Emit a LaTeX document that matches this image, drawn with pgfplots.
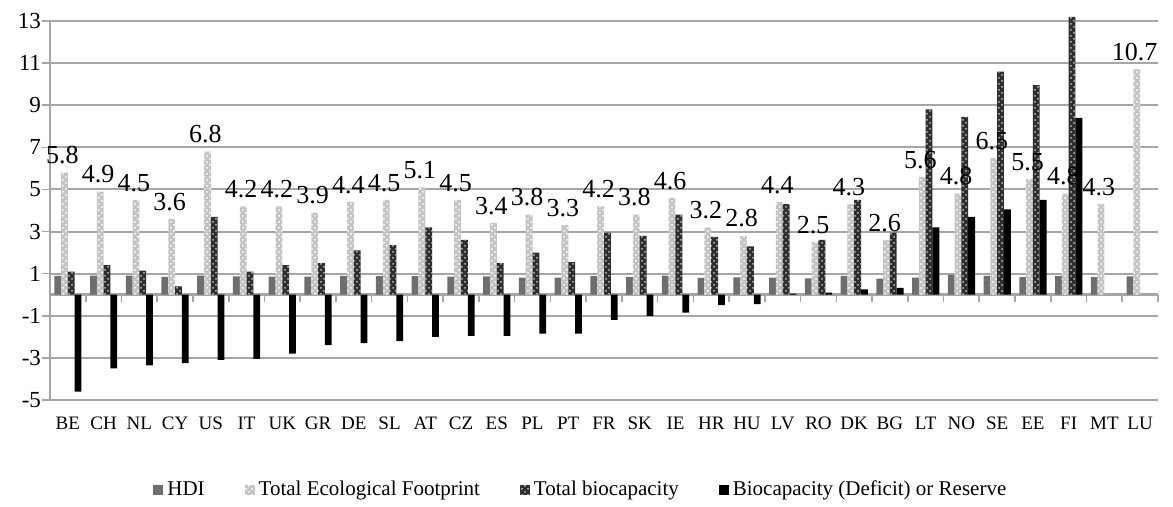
\documentclass[border=0pt]{standalone}
\usepackage{fontspec}
\setmainfont{Liberation Serif}
\usepackage{pgfplots}
\usepackage{pgfplotstable}
\pgfplotsset{compat=1.18}
\usetikzlibrary{patterns}

\pgfplotstableread{
cat HDI FP BC DEF
BE 0.89 5.8 1.1 -4.6
CH 0.91 4.9 1.4 -3.5
NL 0.91 4.5 1.15 -3.35
CY 0.85 3.6 0.4 -3.25
US 0.91 6.8 3.7 -3.1
IT 0.87 4.2 1.1 -3.05
UK 0.86 4.2 1.4 -2.8
GR 0.86 3.9 1.5 -2.4
DE 0.90 4.4 2.1 -2.3
SL 0.88 4.5 2.35 -2.2
AT 0.88 5.1 3.2 -2.0
CZ 0.86 4.5 2.6 -1.95
ES 0.87 3.4 1.5 -1.95
PL 0.81 3.8 2.0 -1.85
PT 0.81 3.3 1.55 -1.85
FR 0.88 4.2 2.95 -1.2
SK 0.83 3.8 2.8 -1.0
IE 0.91 4.6 3.8 -0.85
HR 0.80 3.2 2.75 -0.5
HU 0.82 2.8 2.3 -0.45
LV 0.81 4.4 4.3 0.05
RO 0.78 2.5 2.6 0.1
DK 0.90 4.3 4.5 0.25
BG 0.77 2.6 2.95 0.33
LT 0.81 5.6 8.8 3.2
NO 0.94 4.8 8.45 3.7
SE 0.90 6.5 10.6 4.05
EE 0.83 5.5 9.95 4.5
FI 0.88 4.8 13.2 8.4
MT 0.83 4.3 nan nan
LU 0.87 10.7 nan nan
}\data

\definecolor{gridgray}{HTML}{A6A6A6}
\definecolor{hdigray}{HTML}{6E6E6E}
\definecolor{fpgray}{HTML}{C4C4C4}
\definecolor{bcdark}{HTML}{2E2E2E}

\begin{document}
\begin{tikzpicture}
\useasboundingbox (0,0) rectangle (586.5pt,253.5pt);
\begin{axis}[
  at={(25pt,53.5pt)}, anchor=south west,
  scale only axis,
  width=554pt, height=189.5pt,
  xmin=-0.5, xmax=30.5,
  ymin=-5, ymax=13,
  ybar=0pt, bar width=3.4pt,
  xtick=data,
  xticklabels from table={\data}{cat},
  x tick label style={font=\fontsize{9.5}{10}\selectfont, yshift=-1pt},
  major x tick style={draw=none},
  ytick={-5,-3,...,13},
  y tick label style={font=\fontsize{11.5}{12}\selectfont, xshift=3pt},
  /pgf/number format/assume math mode=true,
  ymajorgrids,
  grid style={gridgray, line width=1pt},
  axis line style={gridgray, line width=1.1pt},
  major y tick style={gridgray, line width=0.8pt},
  tick align=outside,
  major tick length=4pt,
  axis x line*=bottom,
  axis y line*=left,
  clip=false,
  legend style={at={(0.48,-0.237)}, anchor=center, draw=none, fill=none,
    legend columns=4, font=\fontsize{10.5}{12}\selectfont,
    /tikz/every even column/.append style={column sep=18pt}},
  legend image code/.code={\path[#1, draw=none] (0pt,-2.5pt) rectangle (5pt,2.5pt);},
]
\draw[gridgray, line width=1.3pt] (axis cs:-0.5,0) -- (axis cs:30.5,0);
\pgfplotsinvokeforeach{0,...,30}{\draw[gridgray, line width=0.8pt] (axis cs:#1+0.5,0) -- ++(0pt,-3.5pt);}
\addplot[draw=none, fill=hdigray] table[x expr=\coordindex, y=HDI]{\data};
\addplot[draw=none, preaction={fill=fpgray}, pattern=crosshatch dots, pattern color=white,
  nodes near coords, nodes near coords style={font=\fontsize{13}{14}\selectfont, text=black, inner sep=1pt, yshift=3pt, xshift=-1pt},
  point meta=y, /pgf/number format/.cd, fixed, precision=1, zerofill] table[x expr=\coordindex, y=FP]{\data};
\addplot[draw=none, preaction={fill=bcdark}, pattern=crosshatch dots, pattern color=white!75!black] table[x expr=\coordindex, y=BC]{\data};
\addplot[draw=none, fill=black] table[x expr=\coordindex, y=DEF]{\data};
\legend{HDI, Total Ecological Footprint, Total biocapacity, Biocapacity (Deficit) or Reserve}
\end{axis}
\end{tikzpicture}
\end{document}
